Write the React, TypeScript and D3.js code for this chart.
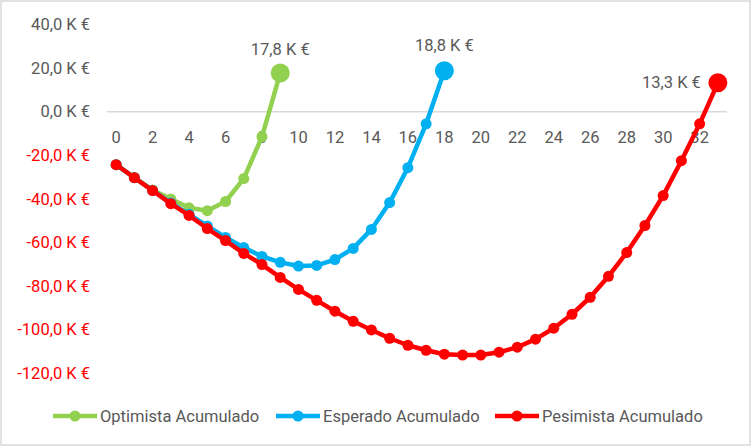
import * as d3 from "d3";

const xCategories = d3.range(0, 34);
const xTickLabels = d3.range(0, 33, 2);
const yTicks = [40, 20, 0, -20, -40, -60, -80, -100, -120];

const optimista = [-24.2, -30.1, -35.8, -40.0, -44.0, -45.3, -41.1, -30.6, -11.4, 17.8];
const esperado = [-24.2, -30.2, -36.0, -41.8, -47.0, -52.3, -57.6, -62.2, -66.3, -69.0, -70.7, -70.4, -67.7, -62.6, -53.9, -41.6, -25.6, -5.5, 18.8];
const pesimista = [-24.2, -30.2, -36.1, -42.1, -47.5, -53.5, -59.0, -64.9, -70.0, -75.9, -81.4, -86.4, -91.4, -96.0, -100.0, -103.8, -107.0, -109.3, -111.1, -111.5, -111.5, -110.2, -107.9, -104.2, -99.2, -92.8, -85.0, -75.4, -64.5, -52.1, -38.4, -22.4, -5.5, 13.3];

const seriesNames = ["Optimista Acumulado", "Esperado Acumulado", "Pesimista Acumulado"];

const W = 751;
const H = 446;
const FONT = "Roboto, 'Open Sans', sans-serif";
const TEXT = "#595959";
const FS = 16.5;

const fmt = (v: number) => (v < 0 ? "-" : "") + Math.abs(v).toFixed(1).replace(".", ",") + " K €";

export default function App() {
  const x = d3.scalePoint<number>().domain(xCategories).range([107, 727]).padding(0.5);
  const y = d3.scaleLinear().domain([-120, 40]).range([373.6, 24.6]);

  const line = d3
    .line<number>()
    .x((_, i) => x(i)!)
    .y((d) => y(d));

  const series = [
    { name: seriesNames[0], values: optimista, color: "#92D050" },
    { name: seriesNames[1], values: esperado, color: "#00B0F0" },
    { name: seriesNames[2], values: pesimista, color: "#FF0000" },
  ];

  const legendX = [53, 276, 495];

  return (
    <svg width={W} height={H} style={{ position: "absolute", left: 0, top: 0, fontFamily: FONT }}>
      <rect x={0} y={0} width={W} height={H} fill="#fff" />
      <rect x={1} y={1} width={W - 2} height={H - 2} fill="none" stroke="#D9D9D9" strokeWidth={1.5} />

      {/* zero line */}
      <line x1={107} x2={727} y1={y(0)} y2={y(0)} stroke="#D9D9D9" strokeWidth={1.5} />

      {/* y axis labels */}
      {yTicks.map((t) => (
        <text key={t} x={90} y={y(t)} textAnchor="end" dominantBaseline="central" fontSize={FS} fill={t < 0 ? "#FF0000" : TEXT}>
          {fmt(t)}
        </text>
      ))}

      {/* x axis labels */}
      {xTickLabels.map((t) => (
        <text key={t} x={x(t)!} y={137} textAnchor="middle" dominantBaseline="central" fontSize={FS} fill={TEXT}>
          {t}
        </text>
      ))}

      {series.map((s) => {
        const n = s.values.length - 1;
        return (
          <g key={s.name}>
            <path d={line(s.values)!} fill="none" stroke={s.color} strokeWidth={4.5} strokeLinejoin="round" />
            {s.values.map((v, i) => (
              <circle key={i} cx={x(i)!} cy={y(v)} r={i === n ? 9.5 : 5.5} fill={s.color} />
            ))}
          </g>
        );
      })}

      {/* data labels on last points */}
      <text x={x(optimista.length - 1)!} y={y(optimista[optimista.length - 1]) - 24} textAnchor="middle" dominantBaseline="central" fontSize={FS} fill={TEXT}>
        {fmt(optimista[optimista.length - 1])}
      </text>
      <text x={x(esperado.length - 1)!} y={y(esperado[esperado.length - 1]) - 25} textAnchor="middle" dominantBaseline="central" fontSize={FS} fill={TEXT}>
        {fmt(esperado[esperado.length - 1])}
      </text>
      <text x={x(pesimista.length - 1)! - 17} y={y(pesimista[pesimista.length - 1])} textAnchor="end" dominantBaseline="central" fontSize={FS} fill={TEXT}>
        {fmt(pesimista[pesimista.length - 1])}
      </text>

      {/* legend */}
      {series.map((s, i) => (
        <g key={s.name} transform={`translate(${legendX[i]},416)`}>
          <line x1={0} x2={44} y1={0} y2={0} stroke={s.color} strokeWidth={4.5} />
          <circle cx={22} cy={0} r={5.5} fill={s.color} />
          <text x={47} y={0} dominantBaseline="central" fontSize={FS} fill={TEXT}>
            {s.name}
          </text>
        </g>
      ))}
    </svg>
  );
}
